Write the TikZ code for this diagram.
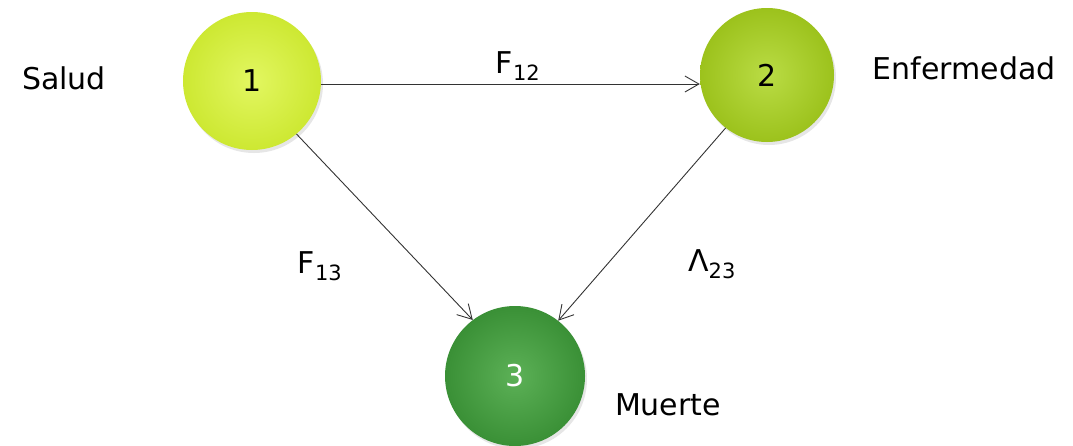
\documentclass[tikz,border=0pt]{standalone}
\usepackage{fontspec}
\setmainfont{DejaVu Sans}[Scale=1]
\usetikzlibrary{arrows.meta,shadows}
\definecolor{cA}{HTML}{DDF545}
\definecolor{cAd}{HTML}{CDE832}
\definecolor{cB}{HTML}{B2D830}
\definecolor{cBd}{HTML}{9CC21C}
\definecolor{cC}{HTML}{4AA844}
\definecolor{cCd}{HTML}{3A9036}
\tikzset{
  state/.style={circle, minimum size=#1, inner sep=0pt, font=\fontsize{30}{30}\selectfont,
    drop shadow={shadow xshift=2pt, shadow yshift=-3pt, opacity=0.2}},
  lab/.style={font=\fontsize{30}{32}\selectfont, inner sep=0pt},
  sub/.style={font=\fontsize{30}{32}\selectfont, inner sep=0pt},
  arr/.style={-{Straight Barb[length=14pt,width=16pt]}, line width=0.9pt, draw=black!80},
}
\begin{document}
\begin{tikzpicture}[x=1pt,y=-1pt]
\useasboundingbox (0,0) rectangle (1073,445);
\node[state=138pt, inner color=cA!85!white, outer color=cAd] (n1) at (252,81) {1};
\node[state=134pt, inner color=cB!90!white, outer color=cBd] (n2) at (767,75) {2};
\node[state=140pt, inner color=cC!90!white, outer color=cCd, text=white] (n3) at (515,376) {3};
\draw[arr] (n1.east) ++(0,3) coordinate (s1) -- (n2.west |- s1);
\draw[arr] (n1.-50) -- (n3.127);
\draw[arr] (n2.-128) -- (n3.52);
\node[lab] (salud) at (64,78) {Salud};
\node[lab] (enf) at (964,68) {Enfermedad};
\node[lab] (mue) at (668,405) {Muerte};
\node[sub] (f12) at (518,66) {F\textsubscript{12}};
\node[sub] (f13) at (320,266) {F\textsubscript{13}};
\node[sub] (l23) at (712,264) {Λ\textsubscript{23}};
\end{tikzpicture}
\end{document}
